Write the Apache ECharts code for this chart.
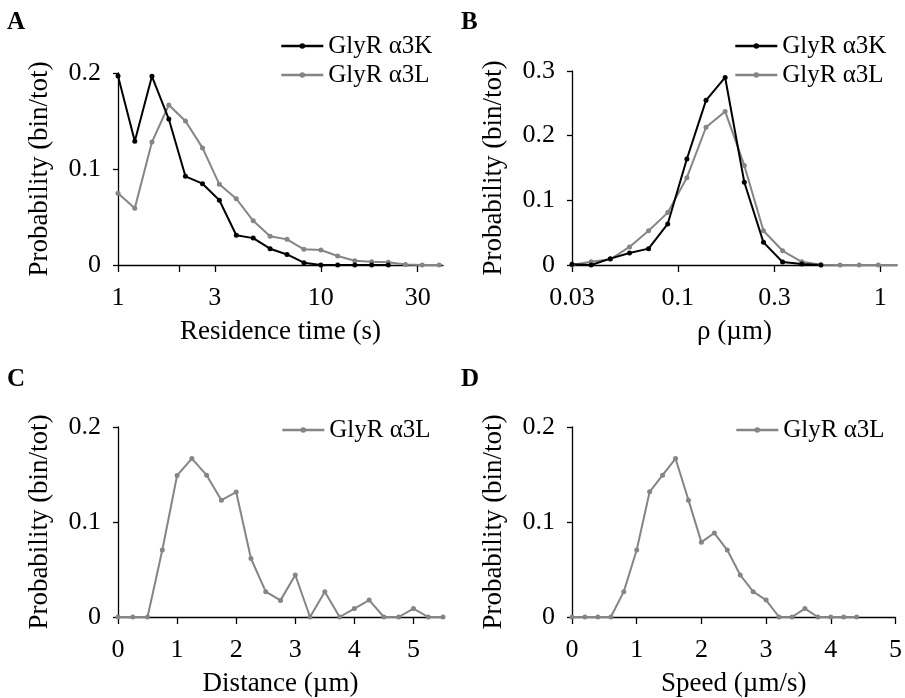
<!DOCTYPE html>
<html><head><meta charset="utf-8">
<script src="https://cdn.jsdelivr.net/npm/echarts@6/dist/echarts.min.js"></script>
<style>html,body{margin:0;padding:0;background:#fff}#c{width:905px;height:698px}</style>
</head><body><div id="c"></div>
<script>
// ---- data ----
const nameK = 'GlyR α3K';
const nameL = 'GlyR α3L';
const panelLetters = ['A', 'B', 'C', 'D'];

// Panel A: residence time (s), log axis
const residenceTime = [1, 1.21, 1.47, 1.78, 2.15, 2.61, 3.16, 3.83, 4.64, 5.62, 6.81, 8.25, 10, 12.1, 14.7, 17.8, 21.5, 26.1, 31.6, 38.3];
const residenceK = [0.197, 0.129, 0.1965, 0.152, 0.0924, 0.0847, 0.0674, 0.031, 0.028, 0.017, 0.011, 0.0024, 0, 0, 0, 0, 0];
const residenceL = [0.0747, 0.059, 0.128, 0.1667, 0.150, 0.122, 0.084, 0.069, 0.046, 0.030, 0.0267, 0.0163, 0.0156, 0.0094, 0.0045, 0.0035, 0.0028, 0.0005, 0, 0];
const residenceTicks = [1, 2, 3, 10, 30];
const residenceLabels = [1, 3, 10, 30];

// Panel B: rho (µm), log axis
const rho = [0.0300, 0.0373, 0.0464, 0.0577, 0.0717, 0.0891, 0.1108, 0.1378, 0.1713, 0.2130, 0.2649, 0.3293, 0.4095, 0.5092, 0.6331, 0.7872, 0.9788, 1.2171];
const rhoK = [0.001, 0, 0.0098, 0.0186, 0.0253, 0.0635, 0.164, 0.2546, 0.290, 0.128, 0.035, 0.0046, 0.0015, 0];
const rhoL = [0, 0.005, 0.0088, 0.028, 0.053, 0.081, 0.135, 0.213, 0.2375, 0.154, 0.053, 0.022, 0.005, 0.0005, 0, 0, 0, 0];
const rhoTicks = [0.03, 0.1, 0.3, 1];

// Panel C: distance (µm)
const distance = [0, 0.25, 0.5, 0.75, 1, 1.25, 1.5, 1.75, 2, 2.25, 2.5, 2.75, 3, 3.25, 3.5, 3.75, 4, 4.25, 4.5, 4.75, 5, 5.25, 5.5];
const distanceL = [0, 0, 0, 0.0705, 0.149, 0.1668, 0.1493, 0.123, 0.1315, 0.0616, 0.0267, 0.0175, 0.0442, 0, 0.0267, 0, 0.0089, 0.0178, 0, 0, 0.0089, 0, 0];
const distanceTicks = [0, 1, 2, 3, 4, 5];

// Panel D: speed (µm/s)
const speed = [0, 0.2, 0.4, 0.6, 0.8, 1.0, 1.2, 1.4, 1.6, 1.8, 2.0, 2.2, 2.4, 2.6, 2.8, 3.0, 3.2, 3.4, 3.6, 3.8, 4.0, 4.2, 4.4];
const speedL = [0, 0, 0, 0, 0.0267, 0.0705, 0.1318, 0.1493, 0.1668, 0.123, 0.0788, 0.0884, 0.0705, 0.0442, 0.0267, 0.0178, 0, 0, 0.0089, 0, 0, 0, 0];
const speedTicks = [0, 1, 2, 3, 4, 5];

const probTicks02 = [0, 0.1, 0.2];
const probTicks03 = [0, 0.1, 0.2, 0.3];

// ---- styling ----
const FONT = 'Liberation Serif';
const BLACK = '#000000';
const GRAY = '#858585';

function zip(xs, ys) { return ys.map((y, i) => [xs[i], y]); }

function xAxis(gridIndex, type, min, max, ticks, labels, name) {
  return {
    gridIndex, type, min, max, logBase: 10,
    name, nameLocation: 'middle', nameGap: 53,
    nameTextStyle: { fontFamily: FONT, fontSize: 27, color: BLACK },
    axisLine: { show: true, onZero: false, lineStyle: { color: BLACK, width: 1.3 } },
    axisTick: { show: true, length: 7, customValues: ticks, lineStyle: { color: BLACK, width: 1.3 } },
    minorTick: { show: false },
    axisLabel: { customValues: labels, margin: 20, fontFamily: FONT, fontSize: 26, color: BLACK,
      formatter: v => String(+Number(v).toPrecision(6)) },
    splitLine: { show: false }
  };
}
function yAxis(gridIndex, max, ticks) {
  return {
    gridIndex, type: 'value', min: 0, max, interval: 0.1,
    name: 'Probability (bin/tot)', nameLocation: 'middle', nameGap: 65,
    nameTextStyle: { fontFamily: FONT, fontSize: 27, color: BLACK },
    axisLine: { show: true, lineStyle: { color: BLACK, width: 1.3 } },
    axisTick: { show: true, length: 5, customValues: ticks, lineStyle: { color: BLACK, width: 1.3 } },
    axisLabel: { customValues: ticks, margin: 17, fontFamily: FONT, fontSize: 26, color: BLACK,
      formatter: v => String(+Number(v).toFixed(2)) },
    splitLine: { show: false }
  };
}
function lineSeries(name, color, xi, data) {
  return {
    type: 'line', name, xAxisIndex: xi, yAxisIndex: xi, data,
    color, symbol: 'circle', symbolSize: 5, showAllSymbol: true,
    lineStyle: { color, width: 2 }, itemStyle: { color },
    emphasis: { disabled: true }
  };
}
function legend(left, top, items) {
  return {
    left, top, orient: 'vertical', data: items,
    itemWidth: 42, itemHeight: 7, itemGap: 3,
    lineStyle: { width: 2.6 },
    textStyle: { fontFamily: FONT, fontSize: 25, color: BLACK, lineHeight: 26 },
    selectedMode: false
  };
}

const chart = echarts.init(document.getElementById('c'), null, { renderer: 'canvas' });
chart.setOption({
  animation: false,
  backgroundColor: '#ffffff',
  title: [
    { text: panelLetters[0], left: 7, top: 10 },
    { text: panelLetters[1], left: 461, top: 10 },
    { text: panelLetters[2], left: 7, top: 367 },
    { text: panelLetters[3], left: 461, top: 367 }
  ].map(t => Object.assign(t, { padding: 0, textStyle: { fontFamily: FONT, fontWeight: 'bold', fontSize: 25, color: BLACK } })),
  grid: [
    { left: 118, top: 73, width: 325, height: 192 },
    { left: 572, top: 71, width: 325, height: 194 },
    { left: 118, top: 427, width: 325, height: 195 },
    { left: 572, top: 427, width: 324, height: 195 }
  ],
  xAxis: [
    xAxis(0, 'log', 1, 40, residenceTicks, residenceLabels, 'Residence time (s)'),
    xAxis(1, 'log', 0.03, 1.21, rhoTicks, rhoTicks, 'ρ (µm)'),
    xAxis(2, 'value', 0, 5.5, distanceTicks, distanceTicks, 'Distance (µm)'),
    xAxis(3, 'value', 0, 5, speedTicks, speedTicks, 'Speed (µm/s)')
  ],
  yAxis: [
    yAxis(0, 0.2, probTicks02),
    yAxis(1, 0.3, probTicks03),
    yAxis(2, 0.2, probTicks02),
    yAxis(3, 0.2, probTicks02)
  ],
  legend: [
    legend(275, 28, [nameK, nameL]),
    legend(729, 28, [nameK, nameL]),
    legend(276, 412, [nameL]),
    legend(730, 412, [nameL])
  ],
  series: [
    lineSeries(nameL, GRAY, 0, zip(residenceTime, residenceL)),
    lineSeries(nameK, BLACK, 0, zip(residenceTime, residenceK)),
    lineSeries(nameL, GRAY, 1, zip(rho, rhoL)),
    lineSeries(nameK, BLACK, 1, zip(rho, rhoK)),
    lineSeries(nameL, GRAY, 2, zip(distance, distanceL)),
    lineSeries(nameL, GRAY, 3, zip(speed, speedL))
  ]
});
</script>
</body></html>
